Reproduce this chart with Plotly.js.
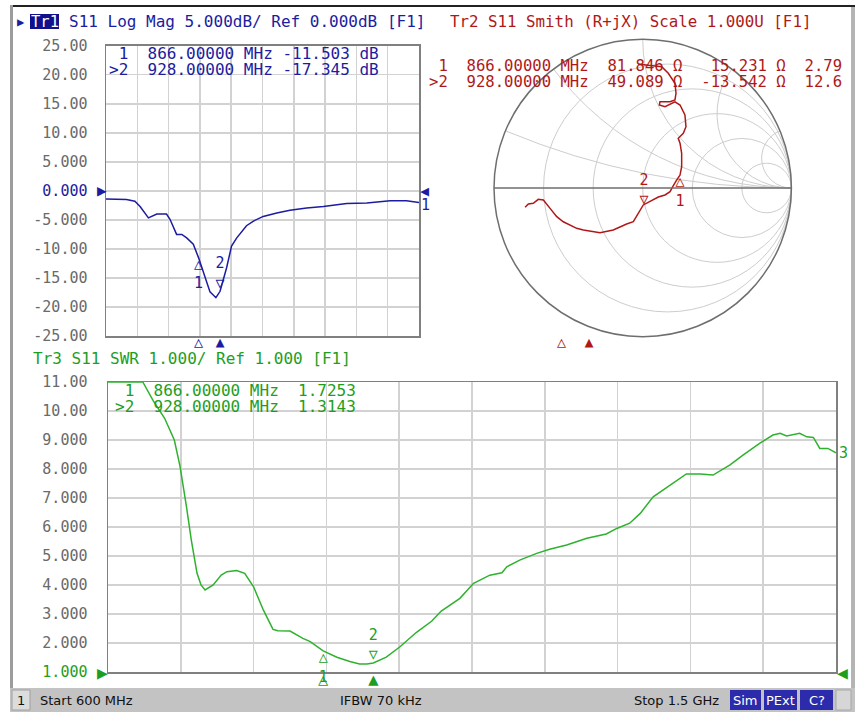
<!DOCTYPE html>
<html><head><meta charset="utf-8">
<script src="https://cdn.plot.ly/plotly-3.0.1.min.js"></script>
<style>html,body{margin:0;padding:0;background:#fff;overflow:hidden}#chart{width:858px;height:713px}</style>
</head><body><div id="chart"></div>
<script>
// ---- Data ----
const freqLogMag = [600,659,683,698,722,746,774,784,803,818,832,851,866,885,899,916,928,947,961,976,1004,1024,1052,1091,1129,1177,1225,1292,1350,1417,1464,1500];
const logMagDb   = [-1.42,-1.5,-1.8,-2.7,-4.66,-4.0,-4.0,-4.9,-7.5,-7.5,-8.1,-9.2,-11.5,-14.9,-17.4,-18.4,-17.3,-13.2,-9.5,-8.1,-6.0,-5.2,-4.4,-3.8,-3.35,-2.95,-2.7,-2.2,-2.1,-1.7,-1.7,-2.0];

const freqSwr = [600,620,643,656,670,682,689,697,703,710,715,720,730,740,747,759,769,780,792,804,810,825,841,850,866,883,899,911,920,928,944,961,981,1000,1012,1035,1052,1072,1087,1093,1109,1130,1146,1167,1192,1216,1229,1245,1258,1274,1295,1315,1332,1348,1369,1385,1406,1422,1431,1439,1455,1464,1472,1480,1490,1499,1500];
const swrValues = [11.0,11.0,11.0,10.35,9.75,9.0,8.1,6.7,5.55,4.41,4.0,3.83,4.0,4.34,4.46,4.5,4.4,3.94,3.14,2.47,2.42,2.41,2.16,2.05,1.73,1.51,1.36,1.28,1.28,1.31,1.51,1.87,2.36,2.75,3.1,3.54,4.06,4.34,4.42,4.63,4.86,5.09,5.23,5.38,5.61,5.76,5.95,6.13,6.47,7.04,7.45,7.83,7.83,7.79,8.14,8.48,8.89,9.17,9.23,9.14,9.23,9.11,9.09,8.71,8.71,8.56,8.56];

const smithGammaRe = [-0.032,0.049,0.128,0.172,0.217,0.224,0.217,0.184,0.116,0.112,0.150,0.217,0.251,0.284,0.291,0.273,0.239,0.251,0.262,0.262,0.251,0.229,0.202,0.184,0.150,0.105,0.004,-0.063,-0.108,-0.198,-0.287,-0.399,-0.444,-0.534,-0.578,-0.623,-0.668,-0.702,-0.736,-0.769,-0.791];
const smithGammaIm = [0.834,0.824,0.816,0.771,0.704,0.637,0.592,0.580,0.580,0.558,0.547,0.580,0.558,0.491,0.412,0.368,0.334,0.301,0.233,0.143,0.087,0.054,0.009,-0.025,-0.047,-0.061,-0.114,-0.227,-0.242,-0.282,-0.301,-0.282,-0.271,-0.227,-0.193,-0.137,-0.081,-0.076,-0.103,-0.108,-0.130];

const markerLabels = [' 1', '>2'];
const markerFreqs = [866, 928];
const markerLogMag = [-11.503, -17.345];
const markerSwr = [1.7253, 1.3143];
const markerR = [81.846, 49.089];
const markerX = [15.231, -13.542];
const markerExtra = ['2.79', '12.6'];

const logMagTicks = [25,20,15,10,5,0,-5,-10,-15,-20,-25];
const logMagTickText = ['25.00','20.00','15.00','10.00','5.000','0.000','-5.000','-10.00','-15.00','-20.00','-25.00'];
const swrTicks = [11,10,9,8,7,6,5,4,3,2,1];
const swrTickText = ['11.00','10.00','9.000','8.000','7.000','6.000','5.000','4.000','3.000','2.000','1.000'];

// ---- Styling ----
const W = 858, H = 713;
const P = x => x / W, Q = y => 1 - y / H;
const BLUE = '#1c1ca0', RED = '#b01818', GREEN = '#1e9e1e', GTRACE = '#2eb22e';
const TICK = '#6a6a6a', GRID = '#d2d2d2', FRAME = '#808080';
const MONO = 'DejaVu Sans Mono';
const nb = s => s.replace(/ /g, '\u00a0');

const zRe = [], zIm = [];
for (let i = 0; i < smithGammaRe.length; i++) {
  const a = smithGammaRe[i], b = smithGammaIm[i];
  const den = (1 - a) * (1 - a) + b * b;
  zRe.push((1 - a * a - b * b) / den);
  zIm.push(2 * b / den);
}
const Z0 = 50;

const traces = [
  {type:'scatter', x:freqLogMag, y:logMagDb, xaxis:'x', yaxis:'y', mode:'lines',
   line:{color:BLUE, width:1.5}, hoverinfo:'skip'},
  {type:'scatter', x:markerFreqs.slice(0,1), y:markerLogMag.slice(0,1), xaxis:'x', yaxis:'y', mode:'text',
   text:['△<br>1'], textposition:'bottom center', cliponaxis:false,
   textfont:{family:MONO, size:15, color:BLUE}, hoverinfo:'skip'},
  {type:'scatter', x:markerFreqs.slice(1), y:markerLogMag.slice(1), xaxis:'x', yaxis:'y', mode:'text',
   text:['2<br>▽'], textposition:'top center', cliponaxis:false,
   textfont:{family:MONO, size:15, color:BLUE}, hoverinfo:'skip'},
  {type:'scatter', x:markerFreqs, y:[-25,-25], xaxis:'x', yaxis:'y', mode:'text',
   text:['△','▲'], textposition:'bottom center', cliponaxis:false,
   textfont:{family:MONO, size:15, color:BLUE}, hoverinfo:'skip'},

  {type:'scatter', x:freqSwr, y:swrValues, xaxis:'x2', yaxis:'y2', mode:'lines',
   line:{color:GTRACE, width:1.5}, hoverinfo:'skip'},
  {type:'scatter', x:markerFreqs.slice(0,1), y:markerSwr.slice(0,1), xaxis:'x2', yaxis:'y2', mode:'text',
   text:['△<br>1'], textposition:'bottom center', cliponaxis:false,
   textfont:{family:MONO, size:15, color:GREEN}, hoverinfo:'skip'},
  {type:'scatter', x:markerFreqs.slice(1), y:markerSwr.slice(1), xaxis:'x2', yaxis:'y2', mode:'text',
   text:['2<br>▽'], textposition:'top center', cliponaxis:false,
   textfont:{family:MONO, size:15, color:GREEN}, hoverinfo:'skip'},
  {type:'scatter', x:markerFreqs, y:[1,1], xaxis:'x2', yaxis:'y2', mode:'text',
   text:['△','▲'], textposition:'bottom center', cliponaxis:false,
   textfont:{family:MONO, size:17, color:GREEN}, hoverinfo:'skip'},

  {type:'scatter', x:markerFreqs, y:[0.5,0.5], xaxis:'x3', yaxis:'y3', mode:'text',
   text:['△','▲'], textposition:'middle center', cliponaxis:false,
   textfont:{family:MONO, size:15, color:RED}, hoverinfo:'skip'},

  {type:'scattersmith', real:zRe, imag:zIm, mode:'lines', line:{color:RED, width:1.5}, hoverinfo:'skip'},
  {type:'scattersmith', real:[markerR[0]/Z0], imag:[markerX[0]/Z0], mode:'text', text:['△<br>1'],
   textposition:'bottom center', textfont:{family:MONO, size:15, color:RED}, hoverinfo:'skip'},
  {type:'scattersmith', real:[markerR[1]/Z0], imag:[markerX[1]/Z0], mode:'text', text:['2<br>▽'],
   textposition:'top center', textfont:{family:MONO, size:15, color:RED}, hoverinfo:'skip'}
];

const logMagTickHtml = logMagTickText.map((t,i) => logMagTicks[i] === 0 ? '<span style="fill:'+BLUE+'">'+t+'</span>' : t);
const swrTickHtml = swrTickText.map((t,i) => swrTicks[i] === 1 ? '<span style="fill:'+GREEN+'">'+t+'</span>' : t);

const xCommon = {range:[600,1500], tick0:600, dtick:90, showticklabels:false, ticks:'', showgrid:true,
  gridcolor:GRID, gridwidth:1.5, zeroline:false, showline:true, linecolor:FRAME, linewidth:1.5, mirror:true, fixedrange:true};
const yCommon = {ticks:'', showgrid:true, gridcolor:GRID, gridwidth:1.5, zeroline:false, showline:true,
  linecolor:FRAME, linewidth:1.5, mirror:true, tickfont:{family:MONO, size:15, color:TICK}, ticklabelstandoff:14, fixedrange:true};

const fmt = (v, d, w) => v.toFixed(d).padStart(w);
const logRows = markerLabels.map((l,i) => l + '  ' + markerFreqs[i].toFixed(5) + ' MHz ' + fmt(markerLogMag[i],3,7) + ' dB');
const smithRows = markerLabels.map((l,i) => l + '  ' + markerFreqs[i].toFixed(5) + ' MHz  ' + fmt(markerR[i],3,6) + ' Ω  ' + fmt(markerX[i],3,7) + ' Ω  ' + markerExtra[i]);
const swrRows = markerLabels.map((l,i) => l + '  ' + markerFreqs[i].toFixed(5) + ' MHz  ' + markerSwr[i].toFixed(4));

function txt(x, y, s, color, size, anchor, fam) {
  return {xref:'paper', yref:'paper', x:P(x), y:Q(y), text:nb(s), showarrow:false,
    xanchor:anchor||'left', yanchor:'middle', font:{family:fam||MONO, size:size||16, color:color}};
}

const annotations = [
  txt(20.5, 21.5, '▶', BLUE, 12, 'center'),
  txt(44.5, 21.5, 'Tr1', '#ffffff', 15.5, 'center'),
  txt(67, 22, 'S11 Log Mag 5.000dB/ Ref 0.000dB [F1]', BLUE, 16),
  txt(448, 22, 'Tr2 S11 Smith (R+jX) Scale 1.000U [F1]', RED, 15.8),
  txt(31, 359, 'Tr3 S11 SWR 1.000/ Ref 1.000 [F1]', GREEN, 16),
  txt(107, 53, logRows[0], BLUE, 16), txt(107, 69, logRows[1], BLUE, 16),
  txt(427, 66.5, smithRows[0], RED, 15.6), txt(427, 82, smithRows[1], RED, 15.6),
  txt(113, 391, swrRows[0], GREEN, 16), txt(113, 407, swrRows[1], GREEN, 16),
  {xref:'paper', yref:'y', x:P(101.5), y:0, text:'▶', showarrow:false, xanchor:'center', yanchor:'middle', font:{family:MONO,size:16,color:BLUE}},
  {xref:'paper', yref:'y', x:P(424), y:0, text:'◀', showarrow:false, xanchor:'center', yanchor:'middle', font:{family:MONO,size:15,color:BLUE}},
  {xref:'x', yref:'y', x:freqLogMag[freqLogMag.length-1], y:logMagDb[logMagDb.length-1], text:'1', showarrow:false, xanchor:'left', yanchor:'middle', xshift:0, yshift:-3, font:{family:MONO,size:15,color:BLUE}},
  {xref:'paper', yref:'y2', x:P(102), y:1, text:'▶', showarrow:false, xanchor:'center', yanchor:'middle', font:{family:MONO,size:18,color:GREEN}},
  {xref:'paper', yref:'y2', x:P(842), y:1, text:'◀', showarrow:false, xanchor:'center', yanchor:'middle', font:{family:MONO,size:18,color:GREEN}},
  {xref:'x2', yref:'y2', x:freqSwr[freqSwr.length-1], y:swrValues[swrValues.length-1], text:'3', showarrow:false, xanchor:'left', yanchor:'middle', xshift:1, font:{family:MONO,size:15,color:GREEN}},
  txt(21, 700.5, '1', '#101010', 13, 'center', 'DejaVu Sans'),
  txt(38, 700.5, 'Start 600 MHz', '#101010', 13, 'left', 'DejaVu Sans'),
  txt(338, 700.5, 'IFBW 70 kHz', '#101010', 13, 'left', 'DejaVu Sans'),
  txt(632, 700.5, 'Stop 1.5 GHz', '#101010', 13, 'left', 'DejaVu Sans'),
  txt(745.5, 700.5, 'Sim', '#ffffff', 13, 'center', 'DejaVu Sans'),
  txt(780.5, 700.5, 'PExt', '#ffffff', 13, 'center', 'DejaVu Sans'),
  txt(816.5, 700.5, 'C?', '#ffffff', 13, 'center', 'DejaVu Sans')
];

function rect(x0, y0, x1, y1, fill, line) {
  return {type:'rect', xref:'paper', yref:'paper', x0:P(x0), x1:P(x1), y0:Q(y1), y1:Q(y0),
    fillcolor:fill, line:{width:line?1:0, color:line||fill}, layer:'below'};
}
const shapes = [
  rect(10, 5, 855, 7, '#222222'),
  rect(10, 5, 13, 712, '#9c9c9c'),
  rect(851, 7, 855, 712, '#b4b4b4'),
  rect(10, 688, 855, 712, '#c3c3c3'),
  rect(12, 690, 30, 710, '#dcdcdc', '#a0a0a0'),
  rect(30, 14, 59, 29, '#10108c'),
  rect(730, 690, 761, 710, '#2b2bab'),
  rect(764, 690, 797, 710, '#2b2bab'),
  rect(800, 690, 833, 710, '#2b2bab'),
  rect(836, 690, 851, 710, '#d6d6d6', '#a8a8a8')
];

const layout = {
  width:W, height:H, margin:{l:0,r:0,t:0,b:0}, paper_bgcolor:'#ffffff', plot_bgcolor:'#ffffff',
  showlegend:false, font:{family:MONO},
  xaxis: Object.assign({}, xCommon, {domain:[P(106), P(419)], anchor:'y'}),
  yaxis: Object.assign({}, yCommon, {domain:[Q(336), Q(45.7)], anchor:'x', range:[-25,25], tickvals:logMagTicks, ticktext:logMagTickHtml}),
  xaxis2: Object.assign({}, xCommon, {domain:[P(108), P(836)], anchor:'y2', layer:'below traces'}),
  yaxis2: Object.assign({}, yCommon, {domain:[Q(672), Q(382)], anchor:'x2', range:[1,11], tickvals:swrTicks, ticktext:swrTickHtml, ticklabelstandoff:16, layer:'below traces'}),
  xaxis3: {domain:[P(443), P(844)], anchor:'y3', range:[600,1500], visible:false, fixedrange:true},
  yaxis3: {domain:[Q(350), Q(336)], anchor:'x3', range:[0,1], visible:false, fixedrange:true},
  smith: {
    domain:{x:[P(494), P(791.4)], y:[Q(336.7), Q(39.3)]},
    bgcolor:'rgba(0,0,0,0)',
    realaxis:{tickvals:[0.2,0.5,1,2,5], showticklabels:false, ticks:'', showgrid:true, gridcolor:'#cdcdcd', gridwidth:1, showline:true, linecolor:'#6e6e6e', linewidth:1.5},
    imaginaryaxis:{tickvals:[0.2,0.5,1,2,5], showticklabels:false, ticks:'', showgrid:true, gridcolor:'#cdcdcd', gridwidth:1, showline:true, linecolor:'#6e6e6e', linewidth:1.5}
  },
  annotations:annotations, shapes:shapes
};

Plotly.newPlot('chart', traces, layout, {displayModeBar:false, staticPlot:true});
</script></body></html>
